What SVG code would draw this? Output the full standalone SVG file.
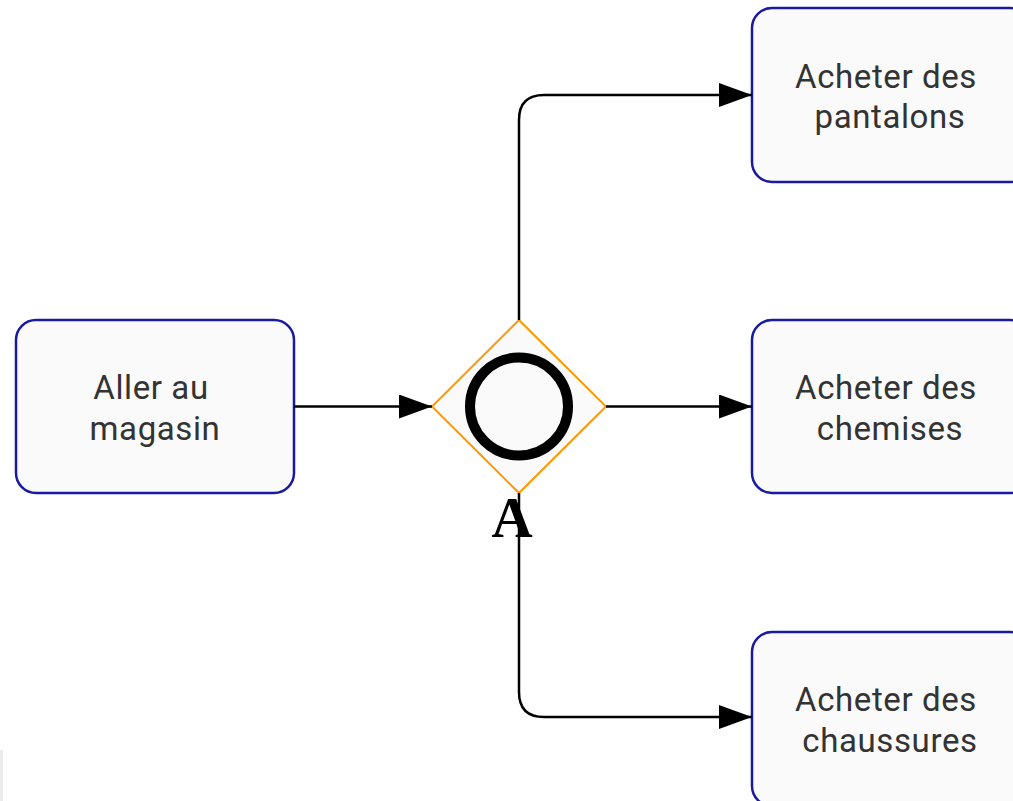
<svg xmlns="http://www.w3.org/2000/svg" width="1013" height="801" viewBox="0 0 1013 801">
  <style>
    .task { fill: #fafafa; stroke: #1a1a9e; stroke-width: 2.5; }
    .lbl { font-family: Roboto, "Liberation Sans", sans-serif; font-size: 33px; letter-spacing: 0.6px; fill: #333333; text-anchor: middle; }
    .edge { fill: none; stroke: #000000; stroke-width: 2.5; }
  </style>
  <defs>
    <marker id="arrow" markerUnits="userSpaceOnUse" markerWidth="34" markerHeight="26" refX="33" refY="12" orient="auto">
      <path d="M0,0 L33,12 L0,24 Z" fill="#000000"/>
    </marker>
  </defs>
  <rect x="0" y="0" width="1013" height="801" fill="#ffffff"/>
  <rect x="0" y="750" width="3" height="51" fill="#ebebeb"/>

  <g id="aller">
    <rect class="task" x="16" y="320" width="278" height="173" rx="20" ry="20"/>
    <text class="lbl" x="151" y="399">Aller au</text>
    <text class="lbl" x="155" y="440">magasin</text>
  </g>

  <g id="gateway">
    <polygon points="519,320 606,406.5 519,493 432,406.5" fill="#fafafa" stroke="#ff9800" stroke-width="2"/>
    <circle cx="519" cy="406.5" r="49" fill="none" stroke="#000000" stroke-width="10"/>
    <text x="512" y="537" font-family="'Liberation Serif', 'Times New Roman', serif" font-weight="bold" font-size="57" text-anchor="middle" fill="#000000">A</text>
  </g>

  <g id="pantalons">
    <rect class="task" x="752" y="8" width="278" height="174" rx="20" ry="20"/>
    <text class="lbl" x="886" y="88">Acheter des</text>
    <text class="lbl" x="890" y="128">pantalons</text>
  </g>

  <g id="chemises">
    <rect class="task" x="752" y="320" width="278" height="173" rx="20" ry="20"/>
    <text class="lbl" x="886" y="399">Acheter des</text>
    <text class="lbl" x="890" y="440">chemises</text>
  </g>

  <g id="chaussures">
    <rect class="task" x="752" y="632" width="278" height="174" rx="20" ry="20"/>
    <text class="lbl" x="886" y="711">Acheter des</text>
    <text class="lbl" x="890" y="752">chaussures</text>
  </g>

  <g id="connectors">
    <path class="edge" d="M294,406.5 H432" marker-end="url(#arrow)"/>
    <path class="edge" d="M519,320 V120 Q519,95 544,95 H752" marker-end="url(#arrow)"/>
    <path class="edge" d="M606,406.5 H752" marker-end="url(#arrow)"/>
    <path class="edge" d="M519,493 V692 Q519,717 544,717 H752" marker-end="url(#arrow)"/>
  </g>
</svg>
